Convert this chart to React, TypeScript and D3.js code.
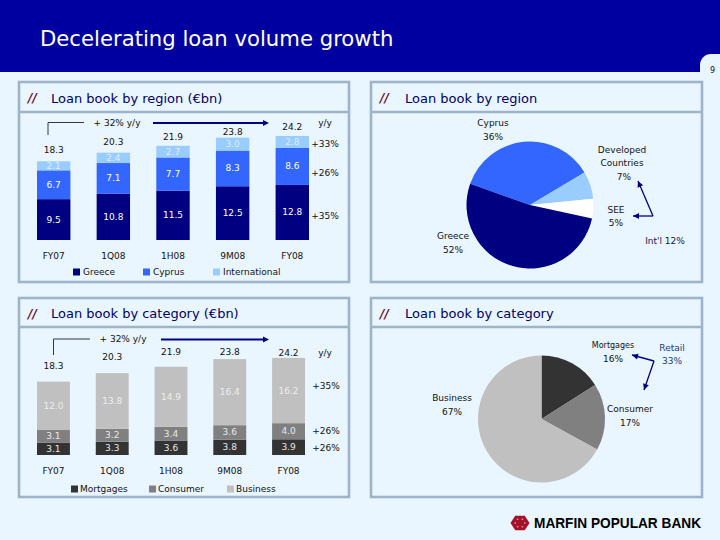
import * as d3 from "d3";

const periods = ["FY07", "1Q08", "1H08", "9M08", "FY08"];

const greece = [9.5, 10.8, 11.5, 12.5, 12.8];
const cyprus = [6.7, 7.1, 7.7, 8.3, 8.6];
const international = [2.1, 2.4, 2.7, 3.0, 2.8];
const regionTotals = ["18.3", "20.3", "21.9", "23.8", "24.2"];
const regionNames = ["Greece", "Cyprus", "International"];

const mortgages = [3.1, 3.3, 3.6, 3.8, 3.9];
const consumer = [3.1, 3.2, 3.4, 3.6, 4.0];
const business = [12.0, 13.8, 14.9, 16.4, 16.2];
const categoryTotals = ["18.3", "20.3", "21.9", "23.8", "24.2"];
const categoryNames = ["Mortgages", "Consumer", "Business"];

const regionShares = [36, 7, 5, 52]; // Cyprus, Developed, SEE, Greece
const categoryShares = [16, 17, 67]; // Mortgages, Consumer, Business

const FONT = "'DejaVu Sans', Verdana, sans-serif";
const NAVY = "#000080";
const BORDER = "#9fb4cb";
const BG = "#eaf6ff";
const INK = "#111111";

const regionColors = [NAVY, "#3366ff", "#99ccff"];
const categoryColors = ["#333333", "#808080", "#c0c0c0"];
const regionPieColors = ["#3366ff", "#99ccff", "#ffffff", NAVY];
const categoryPieColors = ["#333333", "#808080", "#c0c0c0"];

function Label({ x, y, children, size = 9, fill = INK, weight = 400, anchor = "middle" }: any) {
  return (
    <text
      x={x}
      y={y}
      fontSize={size}
      fill={fill}
      fontWeight={weight}
      fontFamily={FONT}
      textAnchor={anchor}
      dominantBaseline="central"
    >
      {children}
    </text>
  );
}

function Panel({ x, y, w, h, headerH, title }: any) {
  return (
    <g>
      <rect x={x} y={y} width={w} height={h} fill={BG} stroke={BORDER} strokeWidth={2.6} />
      <line x1={x} x2={x + w} y1={y + headerH} y2={y + headerH} stroke={BORDER} strokeWidth={2.6} />
      <text
        x={x + 9}
        y={y + headerH / 2 + 1}
        fontSize={12}
        fontStyle="italic"
        fontWeight={700}
        fill="#661122"
        fontFamily={FONT}
        dominantBaseline="central"
      >
        //
      </text>
      <text
        x={x + 32 + (x > 100 ? 2 : 0)}
        y={y + headerH / 2 + 1}
        fontSize={13}
        fill="#000066"
        fontFamily={FONT}
        dominantBaseline="central"
      >
        {title}
      </text>
    </g>
  );
}

function Stacked({ series, names, colors, totals, lifts, x0, x1, baseY, pxPerUnit, labelFills, legendX, legendTextX, catY, legendY }: any) {
  const x = d3.scaleBand<string>().domain(periods).range([x0, x1]).paddingInner(0.44);
  const y = d3.scaleLinear().domain([0, 30]).range([baseY, baseY - 30 * pxPerUnit]);
  const keys = names as string[];
  const rows = periods.map((p, i) => {
    const row: any = { period: p };
    keys.forEach((k, s) => (row[k] = series[s][i]));
    return row;
  });
  const stacked = d3.stack<any>().keys(keys)(rows);
  return (
    <g>
      {stacked.map((layer, s) => (
        <g key={layer.key}>
          {layer.map((d, i) => (
            <g key={i}>
              <rect
                x={x(periods[i])}
                y={y(d[1])}
                width={x.bandwidth()}
                height={y(d[0]) - y(d[1])}
                fill={colors[s]}
              />
              <Label
                x={x(periods[i])! + x.bandwidth() / 2}
                y={(y(d[0]) + y(d[1])) / 2}
                fill={labelFills[s]}
              >
                {series[s][i].toFixed(1)}
              </Label>
            </g>
          ))}
        </g>
      ))}
      {periods.map((p, i) => {
        const top = stacked[stacked.length - 1][i][1];
        const cx = x(p)! + x.bandwidth() / 2;
        return (
          <g key={p}>
            <Label x={cx} y={y(top) - lifts[i]}>
              {totals[i]}
            </Label>
            <Label x={cx} y={catY}>
              {p}
            </Label>
          </g>
        );
      })}
      {keys.map((k, s) => (
        <g key={k}>
          <rect x={legendX[s]} y={legendY - 3.5} width={7} height={7} fill={colors[s]} />
          <Label x={legendTextX[s]} y={legendY} anchor="start">
            {k}
          </Label>
        </g>
      ))}
    </g>
  );
}

function Pie({ values, colors, cx, cy, r, start }: any) {
  const a0 = (start * Math.PI) / 180;
  const arcs = d3.pie<number>().sort(null).startAngle(a0).endAngle(a0 + 2 * Math.PI)(values);
  const arc = d3.arc<d3.PieArcDatum<number>>().innerRadius(0).outerRadius(r);
  return (
    <g transform={`translate(${cx},${cy})`}>
      {arcs.map((d, i) => (
        <path key={i} d={arc(d)!} fill={colors[i]} />
      ))}
    </g>
  );
}

function Growth({ bx, by, topY, bx2, tx, ax0, ax1 }: any) {
  return (
    <g>
      <path d={`M${bx},${by}V${topY}H${bx2}`} fill="none" stroke="#222" strokeWidth={0.9} />
      <Label x={tx} y={topY}>
        + 32% y/y
      </Label>
      <line x1={ax0} x2={ax1 - 5} y1={topY + 0.5} y2={topY + 0.5} stroke={NAVY} strokeWidth={1.8} />
      <path d={`M${ax1},${topY + 0.5}l-6,-3v6z`} fill={NAVY} />
    </g>
  );
}

function Arrow({ from, to }: any) {
  const angle = (Math.atan2(to[1] - from[1], to[0] - from[0]) * 180) / Math.PI;
  return (
    <g stroke={NAVY} fill={NAVY}>
      <line x1={from[0]} y1={from[1]} x2={to[0]} y2={to[1]} strokeWidth={1.3} />
      <path d="M0,0l-6,-3v6z" stroke="none" transform={`translate(${to[0]},${to[1]}) rotate(${angle})`} />
    </g>
  );
}

function Logo() {
  const hex = d3.range(6).map((i) => {
    const a = (i * Math.PI) / 3;
    return [520 + 9.5 * Math.cos(a), 523 + 8.5 * Math.sin(a)] as [number, number];
  });
  return (
    <g>
      <path d={d3.line()(hex)! + "Z"} fill="#a5102a" />
      {hex.map((p, i) => (
        <circle key={i} cx={(p[0] + 520) / 2} cy={(p[1] + 523) / 2} r={0.8} fill="#e8b0b8" />
      ))}
      <text
        x={534}
        y={523}
        fontSize={14}
        fontWeight={700}
        fontFamily="'Liberation Sans', Arial, sans-serif"
        fill="#000"
        dominantBaseline="central"
        textLength={167}
        lengthAdjust="spacingAndGlyphs"
      >
        MARFIN POPULAR BANK
      </text>
    </g>
  );
}

export default function App() {
  return (
    <svg
      width={720}
      height={540}
      viewBox="0 0 720 540"
      style={{ position: "absolute", left: 0, top: 0, background: BG }}
    >
      <rect x={0} y={0} width={720} height={72} fill="#0000a0" />
      <path d="M720,54H711a11,11 0 0 0 -11,11V72a11,11 0 0 0 11,11H720Z" fill={BG} />
      <Label x={712.5} y={70} size={8} fill="#111">
        9
      </Label>
      <text x={40} y={38} fontSize={21.2} fill="#fff" fontFamily={FONT} dominantBaseline="central">
        Decelerating loan volume growth
      </text>

      <Panel x={19} y={82} w={330} h={200} headerH={30} title="Loan book by region (€bn)" />
      <Panel x={371} y={82} w={331} h={200} headerH={30} title="Loan book by region" />
      <Panel x={19} y={298} w={330} h={199} headerH={29} title="Loan book by category (€bn)" />
      <Panel x={371} y={298} w={331} h={199} headerH={29} title="Loan book by category" />

      <Growth bx={48} by={135} topY={122.5} bx2={84} tx={117} ax0={153} ax1={269} />
      <Stacked
        series={[greece, cyprus, international]}
        names={regionNames}
        colors={regionColors}
        totals={regionTotals}
        lifts={[11, 11, 9, 6, 9]}
        x0={37}
        x1={309}
        baseY={240}
        pxPerUnit={4.3}
        labelFills={["#fff", "#fff", "#dfeeff"]}
        legendX={[73, 143, 213]}
        legendTextX={[83, 153, 223]}
        catY={256}
        legendY={272}
      />
      <Label x={325} y={123}>y/y</Label>
      <Label x={325} y={144}>+33%</Label>
      <Label x={325} y={173}>+26%</Label>
      <Label x={325} y={216}>+35%</Label>

      <Growth bx={53.5} by={355} topY={339} bx2={90} tx={123} ax0={161} ax1={269} />
      <Stacked
        series={[mortgages, consumer, business]}
        names={categoryNames}
        colors={categoryColors}
        totals={categoryTotals}
        lifts={[16, 16, 15, 7, 5]}
        x0={37}
        x1={305}
        baseY={455}
        pxPerUnit={4.03}
        labelFills={["#e8e8e8", "#e8e8e8", "#eeeeee"]}
        legendX={[71, 149, 227]}
        legendTextX={[80, 158, 236]}
        catY={471}
        legendY={489}
      />
      <Label x={325} y={353}>y/y</Label>
      <Label x={326} y={386}>+35%</Label>
      <Label x={326} y={431}>+26%</Label>
      <Label x={326} y={448}>+26%</Label>

      <Pie values={regionShares} colors={regionPieColors} cx={530} cy={205} r={63.5} start={-70.5} />
      <Label x={493} y={123}>Cyprus</Label>
      <Label x={493} y={137}>36%</Label>
      <Label x={622} y={149.5}>Developed</Label>
      <Label x={622} y={163}>Countries</Label>
      <Label x={624} y={177}>7%</Label>
      <Label x={616} y={210}>SEE</Label>
      <Label x={616} y={223}>5%</Label>
      <Label x={453} y={236}>Greece</Label>
      <Label x={453} y={250}>52%</Label>
      <Label x={665} y={241} fill="#0a1a50">Int'l 12%</Label>
      <Arrow from={[653, 216]} to={[638, 181]} />
      <Arrow from={[653, 216]} to={[633, 216]} />

      <Pie values={categoryShares} colors={categoryPieColors} cx={541.5} cy={419} r={63.5} start={0} />
      <Label x={613} y={345} size={8}>Mortgages</Label>
      <Label x={613} y={359}>16%</Label>
      <Label x={672} y={348} fill="#1a3a7a">Retail</Label>
      <Label x={672} y={361} fill="#1a3a7a">33%</Label>
      <Label x={630} y={409}>Consumer</Label>
      <Label x={630} y={423}>17%</Label>
      <Label x={452} y={398}>Business</Label>
      <Label x={452} y={412}>67%</Label>
      <Arrow from={[654, 361]} to={[632, 355]} />
      <Arrow from={[654, 361]} to={[644, 390]} />

      <Logo />
    </svg>
  );
}
